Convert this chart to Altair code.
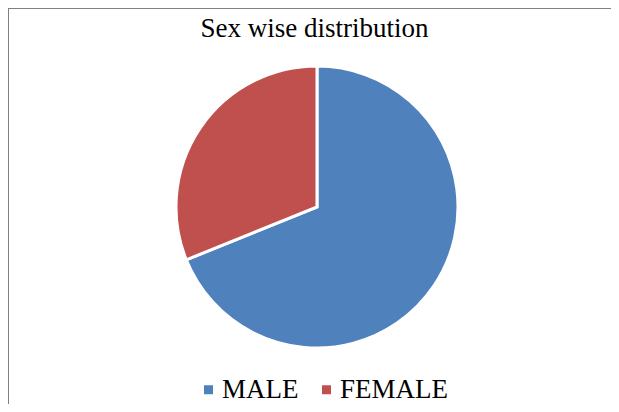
import altair as alt
import pandas as pd

categories = ["MALE", "FEMALE"]
values = [62, 28]
colors = ["#4F81BD", "#C0504D"]
title_text = "Sex wise distribution"

W, H = 603, 396

df = pd.DataFrame({"sex": categories, "count": values, "order": [0, 1]})

pie = alt.Chart(df).mark_arc(radius=141, stroke="white", strokeWidth=3).encode(
    theta=alt.Theta("count:Q", stack=True),
    order=alt.Order("order:Q"),
    color=alt.Color(
        "sex:N",
        scale=alt.Scale(domain=categories, range=colors),
        sort=categories,
        legend=alt.Legend(
            title=None,
            orient="none",
            direction="horizontal",
            legendX=187,
            legendY=368,
            padding=0,
            symbolType="square",
            symbolSize=81,
            symbolStrokeWidth=0,
            labelFont="Liberation Serif",
            labelFontSize=27,
            labelColor="black",
            labelOffset=0,
            columnPadding=14,
        ),
    ),
    x=alt.value(309),
    y=alt.value(199),
)

title = alt.Chart(pd.DataFrame({"t": [title_text]})).mark_text(
    font="Liberation Serif", fontSize=27, color="black", baseline="alphabetic", align="center"
).encode(text="t:N", x=alt.value(306.5), y=alt.value(29))

border = alt.Chart(pd.DataFrame({"b": [0]})).mark_rule(color="#808080", strokeWidth=1).encode(
    x=alt.value(0.5), y=alt.value(0), y2=alt.value(H)
)
border_top = alt.Chart(pd.DataFrame({"b": [0]})).mark_rule(color="#808080", strokeWidth=1).encode(
    x=alt.value(0), x2=alt.value(W), y=alt.value(0.5)
)

chart = alt.layer(border, border_top, pie, title).properties(
    width=W, height=H, padding=0, autosize=alt.AutoSizeParams(type="none")
).configure_view(stroke=None)

chart.save("out.html", embed_options={"renderer": "svg", "actions": False})
